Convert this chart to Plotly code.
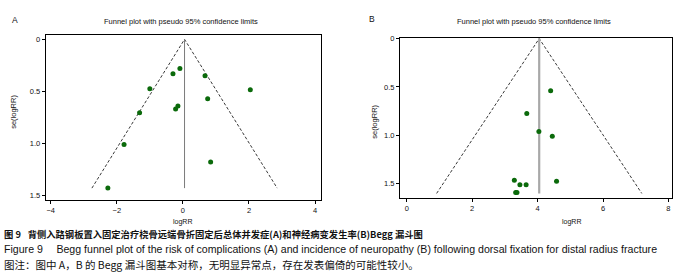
import plotly.graph_objects as go

# Panel A data
A_logrr = [-0.09, -0.30, 0.67, -1.00, 2.04, 0.75, -0.15, -0.22, -1.31, -1.78, 0.84, -2.27]
A_se = [0.28, 0.33, 0.35, 0.475, 0.485, 0.57, 0.64, 0.67, 0.705, 1.01, 1.18, 1.43]
A_theta = 0.05
A_semax = 1.43

# Panel B data
B_logrr = [4.40, 3.67, 4.04, 4.45, 3.29, 4.58, 3.46, 3.65, 3.33, 3.37]
B_se = [0.54, 0.775, 0.96, 1.01, 1.465, 1.475, 1.51, 1.51, 1.59, 1.59]
B_theta = 4.05
B_semax = 1.6

A_xticks = [-4, -2, 0, 2, 4]
B_xticks = [0, 2, 4, 6, 8]
y_ticks = [0, 0.5, 1.0, 1.5]
y_ticklabels = ["0", "0.5", "1.0", "1.5"]

title_txt = "Funnel plot with pseudo 95% confidence limits"
cap1 = "图 9\u2002 背侧入路钢板置入固定治疗桡骨远端骨折固定后总体并发症(A)和神经病变发生率(B)Begg 漏斗图"
cap2 = "Figure 9\u2003 Begg funnel plot of the risk of complications (A) and incidence of neuropathy (B) following dorsal fixation for distal radius fracture"
cap3 = "图注：图中 A，B 的 Begg 漏斗图基本对称，无明显异常点，存在发表偏倚的可能性较小。"

FONT = "Liberation Sans, Arial, sans-serif"
CJK = "Noto Sans CJK SC, sans-serif"
GREEN = "#0b6a0b"
Z = 1.96

fig = go.Figure()

def add_panel(xs, ys, theta, semax, xa, ya, vcolor, vwidth):
    fig.add_trace(go.Scatter(x=[theta - Z * semax, theta, theta + Z * semax],
                             y=[semax, 0, semax], mode="lines",
                             line=dict(color="#222", width=0.9, dash="3px,2px"),
                             xaxis=xa, yaxis=ya, hoverinfo="skip"))
    fig.add_trace(go.Scatter(x=[theta, theta], y=[0, semax], mode="lines",
                             line=dict(color=vcolor, width=vwidth),
                             xaxis=xa, yaxis=ya, hoverinfo="skip"))
    fig.add_trace(go.Scatter(x=xs, y=ys, mode="markers",
                             marker=dict(color=GREEN, size=5),
                             xaxis=xa, yaxis=ya))

add_panel(A_logrr, A_se, A_theta, A_semax, "x", "y", "#7a7a7a", 1)
add_panel(B_logrr, B_se, B_theta, B_semax, "x2", "y2", "#a8a8a8", 2.2)

axis_common = dict(showline=True, linecolor="black", linewidth=1, mirror=True,
                   showgrid=False, zeroline=False, ticks="outside", ticklen=3,
                   tickwidth=1, tickcolor="black",
                   tickfont=dict(family=FONT, size=7.5, color="#111"))

fig.update_layout(
    width=679, height=280, margin=dict(l=0, r=0, t=0, b=0),
    paper_bgcolor="white", plot_bgcolor="white", showlegend=False,
    xaxis=dict(domain=[45.7 / 679, 320.7 / 679], range=[-4.151, 4.17],
               tickvals=A_xticks, anchor="y", **axis_common),
    yaxis=dict(domain=[1 - 199 / 280, 1 - 32.3 / 280], range=[1.543, -0.042],
               tickvals=y_ticks, ticktext=y_ticklabels, anchor="x", **axis_common),
    xaxis2=dict(domain=[400 / 679, 671.7 / 679], range=[-0.205, 8.10],
                tickvals=B_xticks, anchor="y2", **axis_common),
    yaxis2=dict(domain=[1 - 196.7 / 280, 1 - 35 / 280], range=[1.643, -0.01],
                tickvals=y_ticks, ticktext=y_ticklabels, anchor="x2", **axis_common),
)

def ann(text, x, y, size, family=FONT, xanchor="center", textangle=0, color="#111"):
    fig.add_annotation(text=text, x=x / 679, y=1 - y / 280, xref="paper", yref="paper",
                       showarrow=False, xanchor=xanchor, yanchor="middle",
                       textangle=textangle, font=dict(family=family, size=size, color=color))

ann("A", 15, 16.7, 8.5)
ann("B", 371.7, 15.7, 8.5)
ann(title_txt, 181, 18.3, 7.5)
ann(title_txt, 534, 19, 7.5)
ann("se(logRR)", 14, 110, 7.5, textangle=-90)
ann("se(logRR)", 375, 120, 7.5, textangle=-90)
ann("logRR", 182, 221.7, 7)
ann("logRR", 571, 221.7, 7)
ann("<b>" + cap1 + "</b>", 2, 233.0, 9.3, family=CJK, xanchor="left")
ann(cap2, 2, 248.5, 10.6, xanchor="left")
ann(cap3, 2, 264, 10.5, family=CJK, xanchor="left")

fig.write_html("out.html")
